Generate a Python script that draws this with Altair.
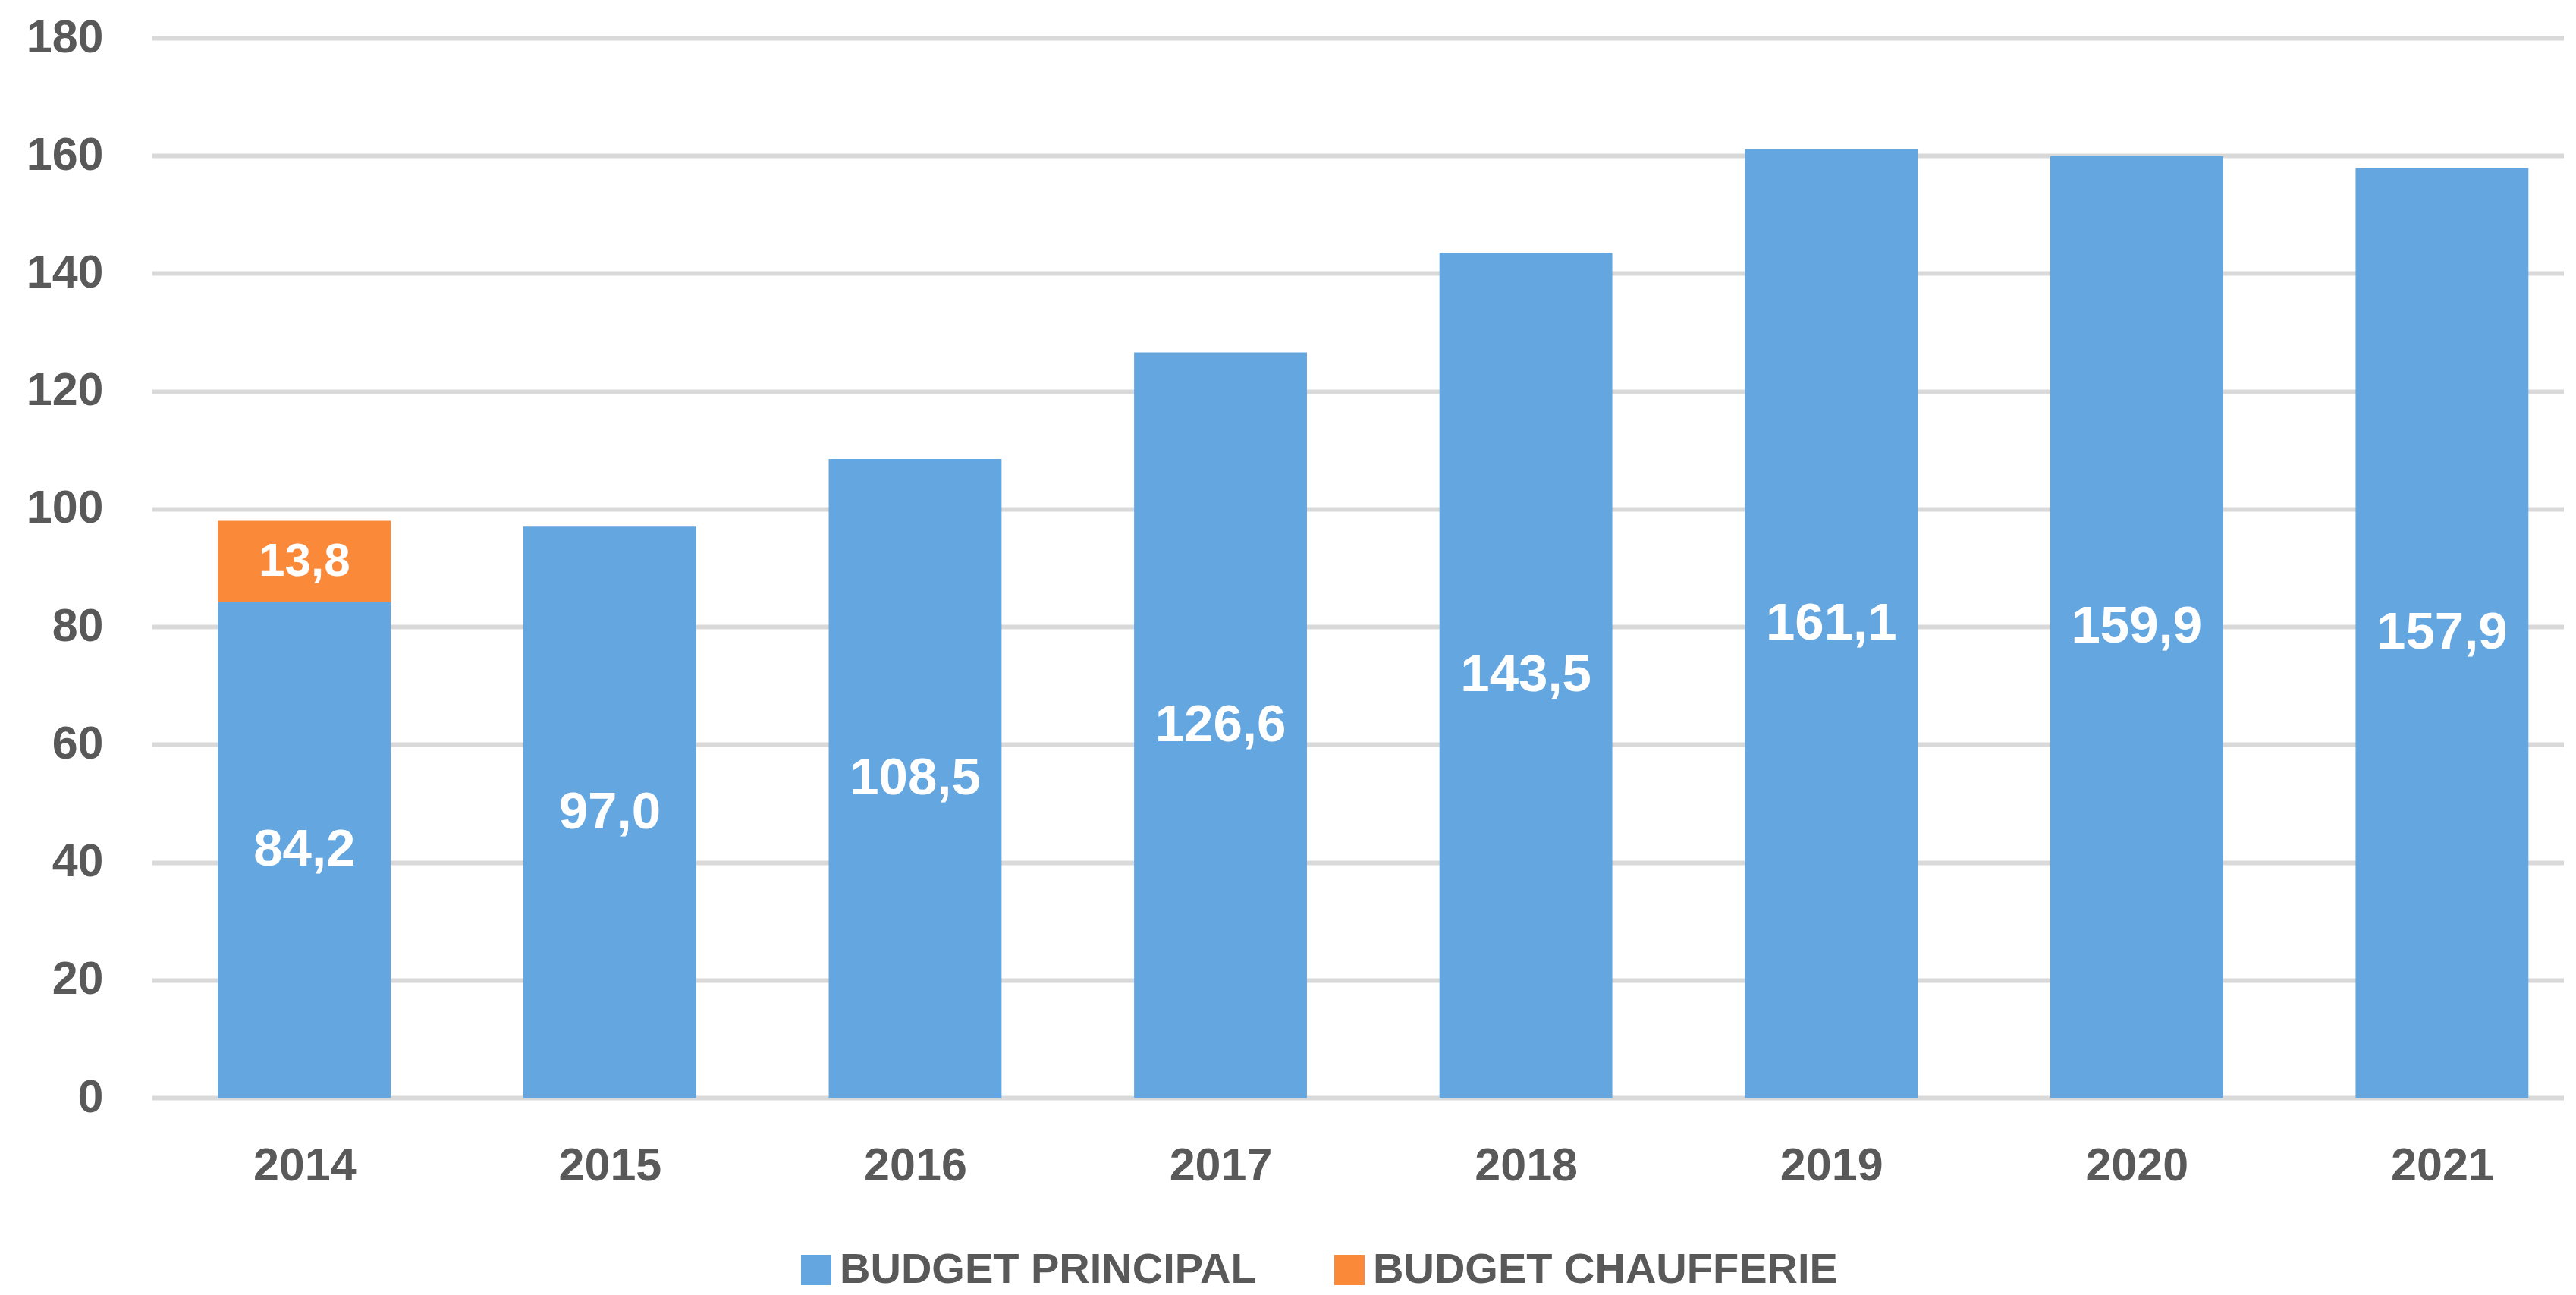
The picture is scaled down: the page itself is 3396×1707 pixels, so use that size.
import altair as alt
import pandas as pd

years = [2014, 2015, 2016, 2017, 2018, 2019, 2020, 2021]
budget_principal = [84.2, 97.0, 108.5, 126.6, 143.5, 161.1, 159.9, 157.9]
budget_chaufferie = [13.8, 0, 0, 0, 0, 0, 0, 0]
series_names = ["BUDGET PRINCIPAL", "BUDGET CHAUFFERIE"]
series_colors = ["#64A6E0", "#FB893A"]
y_ticks = [0, 20, 40, 60, 80, 100, 120, 140, 160, 180]


def fr(v):
    return f"{v:.1f}".replace(".", ",")


rows = []
for yr, p, c in zip(years, budget_principal, budget_chaufferie):
    rows.append(dict(year=yr, series=series_names[0], lo=0.0, hi=p, mid=p / 2, label=fr(p)))
    if c > 0:
        rows.append(dict(year=yr, series=series_names[1], lo=p, hi=p + c, mid=p + c / 2, label=fr(c)))
df = pd.DataFrame(rows)

FONT = "Liberation Sans"
GRAY = "#595959"
half = 0.283
xscale = alt.Scale(domain=[2013.5, 2021.399], nice=False, zero=False)
yscale = alt.Scale(domain=[0, 180], nice=False)

base = alt.Chart(df)

bars = base.transform_calculate(
    x0=f"datum.year - {half}", x1=f"datum.year + {half}"
).mark_bar().encode(
    x=alt.X("x0:Q", scale=xscale, title=None,
            axis=alt.Axis(values=years, format="d", domain=False, ticks=False, grid=False,
                          labelFont=FONT, labelFontSize=61, labelFontWeight="bold",
                          labelColor=GRAY, labelPadding=60)),
    x2="x1:Q",
    y=alt.Y("lo:Q", scale=yscale, title=None,
            axis=alt.Axis(values=y_ticks, domain=False, ticks=False, grid=True,
                          gridColor="#D9D9D9", gridWidth=6,
                          labelFont=FONT, labelFontSize=61, labelFontWeight="bold",
                          labelColor=GRAY, labelPadding=64)),
    y2="hi:Q",
    color=alt.Color("series:N", scale=alt.Scale(domain=series_names, range=series_colors),
                    legend=alt.Legend(orient="none", legendX=848, legendY=1596,
                                      direction="horizontal", title=None,
                                      symbolType="square", symbolSize=1600,
                                      symbolStrokeWidth=0, symbolOpacity=1,
                                      labelFont=FONT, labelFontSize=56, labelFontWeight="bold",
                                      labelColor=GRAY, labelOffset=3, labelLimit=2000,
                                      columnPadding=94, padding=0)),
)

text_principal = base.transform_filter(
    alt.datum.series == series_names[0]
).mark_text(color="white", font=FONT, fontSize=69, fontWeight="bold").encode(
    x=alt.X("year:Q", scale=xscale, title=None),
    y=alt.Y("mid:Q", scale=yscale, title=None),
    text="label:N",
)

text_chauff = base.transform_filter(
    alt.datum.series == series_names[1]
).mark_text(color="white", font=FONT, fontSize=62, fontWeight="bold").encode(
    x=alt.X("year:Q", scale=xscale, title=None),
    y=alt.Y("mid:Q", scale=yscale, title=None),
    text="label:N",
)

chart = alt.layer(bars, text_principal, text_chauff).properties(
    width=3180,
    height=1397,
    background="white",
    autosize=alt.AutoSizeParams(type="none"),
    padding={"left": 192, "top": 42, "right": 0, "bottom": 259},
).configure_view(stroke=None)

chart.save("out.html", embed_options={"renderer": "svg", "actions": False})
